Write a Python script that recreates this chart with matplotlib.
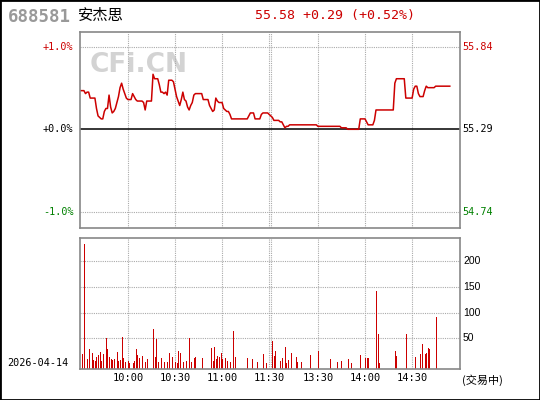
import matplotlib
matplotlib.use("Agg")
import matplotlib.pyplot as plt
from matplotlib.patches import Rectangle
import numpy as np

# intraday snapshot, 688581 安杰思
code = "688581"
name = "安杰思"
prev_close = 55.29
headline = "55.58 +0.29 (+0.52%)"
date_str = "2026-04-14"
status_str = "(交易中)"

# last price per minute, index 0 = 9:30 (120 = 11:30, 121 = 13:01)
prices = [
    55.55, 55.55, 55.55, 55.53, 55.54, 55.54, 55.50, 55.50, 55.50, 55.50,
    55.43, 55.38, 55.37, 55.36, 55.36, 55.41, 55.43, 55.43, 55.52, 55.44,
    55.40, 55.41, 55.43, 55.47, 55.51, 55.57, 55.60, 55.56, 55.53, 55.50,
    55.49, 55.49, 55.49, 55.53, 55.51, 55.49, 55.48, 55.48, 55.48, 55.48,
    55.47, 55.42, 55.48, 55.48, 55.48, 55.48, 55.66, 55.63, 55.63, 55.63,
    55.59, 55.54, 55.54, 55.53, 55.54, 55.52, 55.62, 55.62, 55.62, 55.61,
    55.56, 55.51, 55.48, 55.45, 55.49, 55.54, 55.49, 55.48, 55.44, 55.42,
    55.45, 55.47, 55.52, 55.53, 55.53, 55.53, 55.53, 55.53, 55.49, 55.49,
    55.49, 55.49, 55.45, 55.43, 55.41, 55.42, 55.50, 55.48, 55.47, 55.47,
    55.47, 55.43, 55.42, 55.41, 55.41, 55.39, 55.36, 55.36, 55.36, 55.36,
    55.36, 55.36, 55.36, 55.36, 55.36, 55.36, 55.36, 55.38, 55.40, 55.40,
    55.40, 55.36, 55.36, 55.36, 55.36, 55.39, 55.40, 55.40, 55.40, 55.40,
    55.39, 55.38, 55.37, 55.35, 55.35, 55.35, 55.35, 55.34, 55.34, 55.32,
    55.30, 55.31, 55.31, 55.32, 55.32, 55.32, 55.32, 55.32, 55.32, 55.32,
    55.32, 55.32, 55.32, 55.32, 55.32, 55.32, 55.32, 55.32, 55.32, 55.32,
    55.32, 55.31, 55.31, 55.31, 55.31, 55.31, 55.31, 55.31, 55.31, 55.31,
    55.31, 55.31, 55.31, 55.31, 55.31, 55.31, 55.30, 55.30, 55.30, 55.30,
    55.29, 55.29, 55.29, 55.29, 55.29, 55.29, 55.29, 55.29, 55.36, 55.36,
    55.36, 55.36, 55.34, 55.32, 55.32, 55.32, 55.32, 55.35, 55.42, 55.42,
    55.42, 55.42, 55.42, 55.42, 55.42, 55.42, 55.42, 55.42, 55.42, 55.42,
    55.60, 55.63, 55.63, 55.63, 55.63, 55.63, 55.63, 55.50, 55.50, 55.50,
    55.50, 55.50, 55.56, 55.58, 55.58, 55.53, 55.51, 55.51, 55.51, 55.55,
    55.58, 55.57, 55.57, 55.57, 55.57, 55.57, 55.58, 55.58, 55.58, 55.58,
    55.58, 55.58, 55.58, 55.58, 55.58, 55.58,
]

# minutes with trades and their volume
vol_minutes = [
    1, 2, 4, 5, 7, 8, 9, 10, 11, 12, 13, 14, 16, 17, 18, 19, 20, 21, 23, 24,
    25, 26, 27, 28, 30, 31, 33, 34, 35, 36, 37, 39, 41, 42, 46, 47, 48, 49, 51, 53,
    55, 56, 58, 60, 61, 62, 63, 65, 67, 69, 70, 72, 73, 77, 83, 84, 85, 86, 87, 88,
    89, 90, 92, 93, 95, 97, 98, 106, 109, 112, 116, 118,
    122, 123, 124, 127, 128, 130, 131, 132, 134, 137, 138, 140, 146, 151, 159, 163,
    166, 170, 172, 178, 181, 182, 183, 188, 189, 190, 200, 201, 207, 213, 216, 217,
    219, 220, 221, 222, 226,
]
volumes = [
    20, 233, 10, 29, 22, 8, 6, 14, 18, 23, 6, 20, 51, 29, 14, 10, 8, 10, 23, 6,
    8, 53, 12, 4, 6, 2, 2, 6, 29, 18, 12, 16, 4, 10, 68, 14, 49, 4, 12, 4,
    4, 22, 14, 4, 2, 25, 22, 4, 6, 51, 4, 12, 14, 12, 31, 6, 33, 10, 16, 14,
    22, 10, 12, 6, 4, 64, 14, 12, 10, 4, 20, 2,
    45, 16, 25, 6, 12, 33, 2, 8, 22, 14, 4, 4, 18, 25, 10, 4,
    6, 10, 2, 18, 12, 12, 12, 142, 58, 2, 25, 16, 58, 14, 20, 39,
    20, 22, 31, 29, 92,
]

grid_minutes = [30, 60, 90, 120, 121, 151, 181, 211]
tick_minutes = [30, 60, 90, 120, 151, 181, 211]
tick_labels = ["10:00", "10:30", "11:00", "11:30", "13:30", "14:00", "14:30"]
vol_ticks = [50, 100, 150, 200]

RED = "#cc0000"
GREEN = "#008000"
GRAY = "#888888"
DOT = "#aaaaaa"
MONO = "DejaVu Sans Mono"

pct = (np.array(prices) / prev_close - 1) * 100

fig = plt.figure(figsize=(5.4, 4.0), dpi=100)
fig.patch.set_facecolor("white")

ax = fig.add_axes([80 / 540, 1 - 228.3 / 400, 380 / 540, 196.6 / 400])
axv = fig.add_axes([80 / 540, 1 - 369.3 / 400, 380 / 540, 131 / 400])

dotted = dict(color=DOT, lw=0.8, linestyle=(0, (1, 1)), zorder=1)

# ---- price panel
ax.set_xlim(-0.5, 241.5)
ax.set_ylim(-1.204, 1.187)
for m in grid_minutes:
    ax.axvline(m, **dotted)
for lvl in (1.0, -1.0):
    ax.axhline(lvl, **dotted)
ax.axhline(0, color="black", lw=1.1, zorder=2)
ax.plot(np.arange(len(pct)), pct, color=RED, lw=1.1, zorder=3)

# watermark
ax.text(0.026, 0.83, "CFi.CN", transform=ax.transAxes, fontsize=19,
        fontweight="bold", color="#d3d3d3", va="center", ha="left", zorder=0)

left_lbl = [(1.0, "+1.0%", RED), (0.0, "+0.0%", "black"), (-1.0, "-1.0%", GREEN)]
for y, s, c in left_lbl:
    ax.text(-0.017, y, s, transform=ax.get_yaxis_transform(), ha="right",
            va="center", fontsize=7.3, family=MONO, color=c)
for y, c in [(1.0, RED), (0.0, "black"), (-1.0, GREEN)]:
    p = prev_close * (1 + y / 100)
    ax.text(1.006, y, "%.2f" % p, transform=ax.get_yaxis_transform(),
            ha="left", va="center", fontsize=7.3, family=MONO, color=c)

# ---- volume panel
vmin, vmax = -10, 245
axv.set_xlim(-0.5, 241.5)
axv.set_ylim(vmin, vmax)
for m in grid_minutes:
    axv.axvline(m, **dotted)
for v in vol_ticks:
    axv.axhline(v, **dotted)
vols = np.array(volumes, dtype=float)
axv.vlines(vol_minutes, vmin, vols, colors=RED, lw=0.72, antialiased=False,
           zorder=3)
for v in vol_ticks:
    axv.text(1.008, v, str(v), transform=axv.get_yaxis_transform(),
             ha="left", va="center", fontsize=7.5, family="Liberation Sans")

for m, s in zip(tick_minutes, tick_labels):
    axv.text(m, -0.07, s, transform=axv.get_xaxis_transform(), ha="center",
             va="center", fontsize=7.5, family=MONO)

for a in (ax, axv):
    a.set_xticks([])
    a.set_yticks([])
    for sp in a.spines.values():
        sp.set_color(GRAY)
        sp.set_linewidth(1.2)
        sp.set_zorder(5)

# ---- header / footer text
fig.text(8 / 540, 1 - 17 / 400, code, fontsize=12.5, family=MONO,
         fontweight="bold", color="#999999", va="center", ha="left")
fig.text(78 / 540, 1 - 15 / 400, name, fontsize=11, family="Noto Sans CJK SC",
         va="center", ha="left")
fig.text(255 / 540, 1 - 15 / 400, headline, fontsize=9.5, family=MONO,
         color=RED, va="center", ha="left")
fig.text(7 / 540, 1 - 363 / 400, date_str, fontsize=7.3, family=MONO,
         va="center", ha="left")
fig.text(462 / 540, 1 - 380 / 400, status_str, fontsize=8,
         family=["Noto Sans CJK SC", "DejaVu Sans"], va="center", ha="left")

fig.patches.append(Rectangle((0, 0), 1, 1, transform=fig.transFigure,
                             fill=False, edgecolor="black", lw=2))

fig.savefig("out.png", dpi=100)
